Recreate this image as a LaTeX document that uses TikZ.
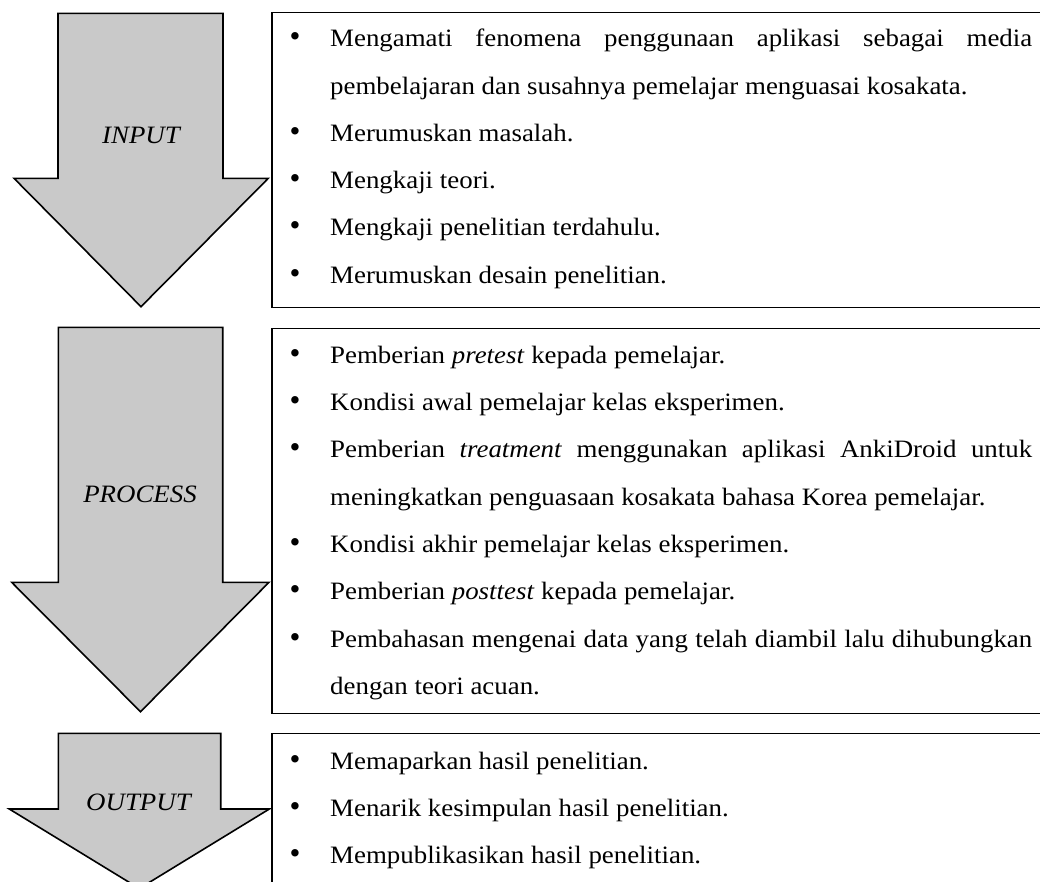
\documentclass[tikz,border=0pt]{standalone}
\usepackage{fontspec}
\setmainfont{Liberation Serif}[FakeStretch=1.075]
\newfontfamily\bulfont{Liberation Serif}
\newcommand\myitem[3]{%
  \node[bul] (b#1) at (295,#2) {\textbullet};
  \node[itm] (t#1) at (330,#2) {\hyphenpenalty=10000\relax\exhyphenpenalty=10000\relax\tolerance=10000\relax #3\par};}
\begin{document}
\begin{tikzpicture}[x=1pt,y=-1pt,
  arrowshape/.style={draw=black, line width=1.6pt, fill=black!21, line join=miter},
  listbox/.style={draw=black, line width=1.6pt},
  lbl/.style={anchor=base, font=\fontsize{25}{30}\selectfont\itshape, inner sep=0pt},
  bul/.style={anchor=base, font=\bulfont\fontsize{31}{36}\selectfont, inner sep=0pt},
  itm/.style={anchor=base west, inner sep=0pt, text width=702pt, align=justify,
    font=\fontsize{25}{47.3}\selectfont}]
\useasboundingbox (0,0) rectangle (1040,881);
\clip (0,0) rectangle (1040,881);
% arrows
\draw[arrowshape] (58,13.3) -- (223,13.3) -- (223,178.3) -- (268.3,178.3) -- (141,306.7) -- (14,178.3) -- (58,178.3) -- cycle;
\draw[arrowshape] (58.3,327.3) -- (222.7,327.3) -- (222.7,582.3) -- (269,582.3) -- (140.5,711.7) -- (11.7,582.3) -- (58.3,582.3) -- cycle;
\draw[arrowshape] (58.3,733.3) -- (220.7,733.3) -- (220.7,809) -- (269.3,809) -- (139.3,888.5) -- (9.3,809) -- (58.3,809) -- cycle;
\node[lbl] (lin) at (141,143) {INPUT};
\node[lbl] (lpr) at (140,502.7) {PROCESS};
\node[lbl] (lout) at (138.5,810.7) {OUTPUT};
% boxes
\draw[listbox] (272,12.3) rectangle (1070,307.3);
\draw[listbox] (272,328.3) rectangle (1070,713.3);
\draw[listbox] (272,733.3) rectangle (1070,920);
% input items
\myitem{i1}{46.7}{Mengamati fenomena penggunaan aplikasi sebagai media\linebreak pembelajaran dan susahnya pemelajar menguasai kosakata.}
\myitem{i2}{141.3}{Merumuskan masalah.}
\myitem{i3}{188.6}{Mengkaji teori.}
\myitem{i4}{235.9}{Mengkaji penelitian terdahulu.}
\myitem{i5}{283.2}{Merumuskan desain penelitian.}
% process items
\myitem{p1}{363.3}{Pemberian \textit{pretest} kepada pemelajar.}
\myitem{p2}{410.6}{Kondisi awal pemelajar kelas eksperimen.}
\myitem{p3}{457.9}{Pemberian \textit{treatment} menggunakan aplikasi AnkiDroid untuk\linebreak meningkatkan penguasaan kosakata bahasa Korea pemelajar.}
\myitem{p4}{552.5}{Kondisi akhir pemelajar kelas eksperimen.}
\myitem{p5}{599.8}{Pemberian \textit{posttest} kepada pemelajar.}
\myitem{p6}{647.1}{Pembahasan mengenai data yang telah diambil lalu dihubungkan\linebreak dengan teori acuan.}
% output items
\myitem{o1}{769.3}{Memaparkan hasil penelitian.}
\myitem{o2}{816.6}{Menarik kesimpulan hasil penelitian.}
\myitem{o3}{863.5}{Mempublikasikan hasil penelitian.}
\end{tikzpicture}
\end{document}
